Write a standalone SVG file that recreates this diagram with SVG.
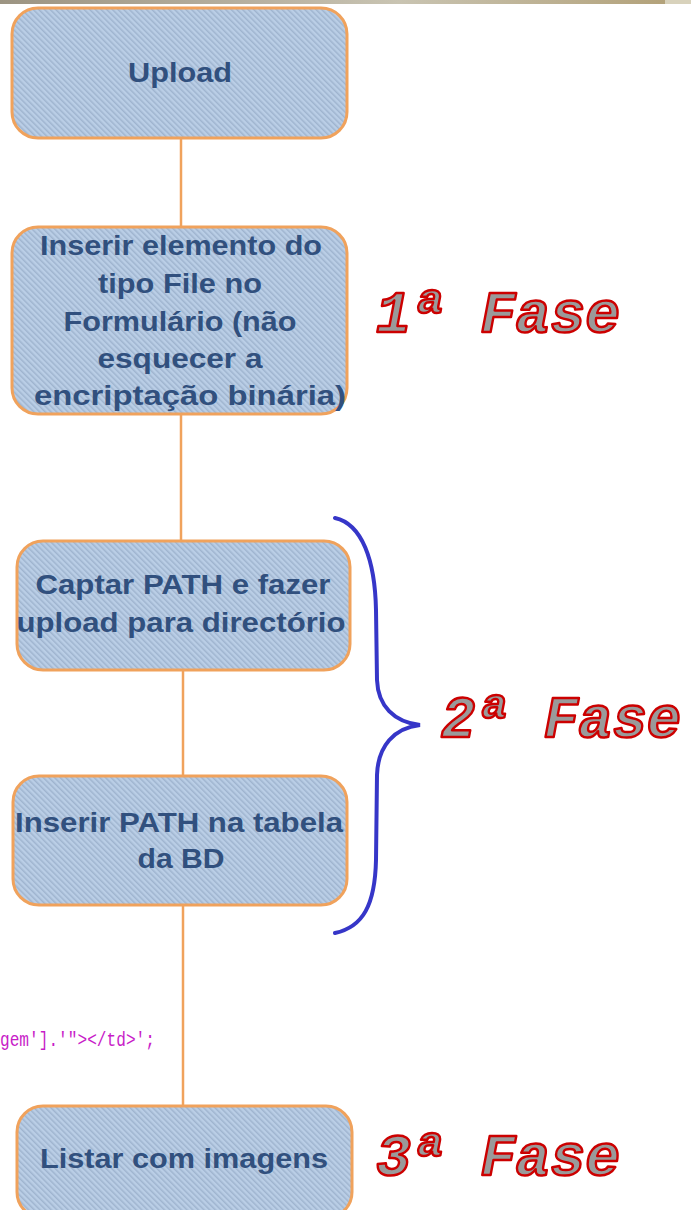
<svg xmlns="http://www.w3.org/2000/svg" width="691" height="1210" viewBox="0 0 691 1210">
<defs>
<pattern id="hatch" width="4" height="4" patternUnits="userSpaceOnUse" patternTransform="rotate(-45)">
<rect width="4" height="4" fill="#bacee6"/>
<rect width="1.5" height="4" fill="#9fb4cf"/>
</pattern>
<linearGradient id="topg" x1="0" y1="0" x2="1" y2="0">
<stop offset="0" stop-color="#9c9482"/>
<stop offset="0.4" stop-color="#b8b2a2"/>
<stop offset="0.6" stop-color="#c9c4b2"/>
<stop offset="1" stop-color="#b3a27a"/>
</linearGradient>
<style>
.box{fill:url(#hatch);stroke:#f0a25c;stroke-width:3}
.lbl{font-family:"Liberation Sans",Arial,sans-serif;font-weight:bold;font-size:27.5px;fill:#31507e;text-anchor:middle}
.fase{font-family:"Liberation Mono","Courier New",monospace;font-weight:bold;font-style:italic;font-size:60px;fill:#9a9a9a;stroke:#cc0000;stroke-width:2.5;stroke-linejoin:round}
.con{stroke:#f0a25c;stroke-width:2.5;fill:none}
.brace{stroke:#3636c8;stroke-width:4;fill:none;stroke-linecap:round}
.code{font-family:"Liberation Mono","Courier New",monospace;font-size:21px;fill:#c81cc8}
</style>
</defs>
<rect width="691" height="1210" fill="#ffffff"/>
<rect x="0" y="0" width="665" height="4" fill="url(#topg)"/>
<rect x="665" y="0" width="26" height="4" fill="#d8d2bc"/>

<g id="connectors">
<line class="con" x1="181" y1="138" x2="181" y2="227"/>
<line class="con" x1="181" y1="414" x2="181" y2="541"/>
<line class="con" x1="183" y1="670" x2="183" y2="776"/>
<line class="con" x1="183" y1="905" x2="183" y2="1106"/>
</g>

<g id="node-upload">
<rect class="box" x="12" y="8" width="335" height="130" rx="26"/>
<text class="lbl" x="180" y="82" textLength="104" lengthAdjust="spacingAndGlyphs">Upload</text>
</g>

<g id="node-inserir-file">
<rect class="box" x="12" y="227" width="335" height="187" rx="26"/>
<text class="lbl" x="181" y="255" textLength="282" lengthAdjust="spacingAndGlyphs">Inserir elemento do</text>
<text class="lbl" x="180" y="293" textLength="164" lengthAdjust="spacingAndGlyphs">tipo File no</text>
<text class="lbl" x="180" y="331" textLength="233" lengthAdjust="spacingAndGlyphs">Formulário (não</text>
<text class="lbl" x="180" y="368" textLength="165" lengthAdjust="spacingAndGlyphs">esquecer a</text>
<text class="lbl" x="190" y="405" textLength="312" lengthAdjust="spacingAndGlyphs">encriptação binária)</text>
</g>

<g id="node-captar">
<rect class="box" x="17" y="541" width="333" height="129" rx="26"/>
<text class="lbl" x="183" y="594" textLength="295" lengthAdjust="spacingAndGlyphs">Captar PATH e fazer</text>
<text class="lbl" x="181" y="632" textLength="329" lengthAdjust="spacingAndGlyphs">upload para directório</text>
</g>

<g id="node-inserir-path">
<rect class="box" x="13" y="776" width="334" height="129" rx="26"/>
<text class="lbl" x="179" y="832" textLength="328" lengthAdjust="spacingAndGlyphs">Inserir PATH na tabela</text>
<text class="lbl" x="181" y="868" textLength="87" lengthAdjust="spacingAndGlyphs">da BD</text>
</g>

<g id="node-listar">
<rect class="box" x="17" y="1106" width="335" height="112" rx="26"/>
<text class="lbl" x="184" y="1168" textLength="288" lengthAdjust="spacingAndGlyphs">Listar com imagens</text>
</g>

<g id="brace">
<path class="brace" d="M335,518 C362,524 375,560 376,610 L377,680 C378,706 394,722 420,725 C394,728 378,746 377,775 L376,860 C375,905 363,927 335,933"/>
</g>

<g id="labels">
<text class="fase" x="376" y="332" textLength="244" lengthAdjust="spacingAndGlyphs">1ª Fase</text>
<text class="fase" x="441" y="737" textLength="240" lengthAdjust="spacingAndGlyphs">2ª Fase</text>
<text class="fase" x="376" y="1175" textLength="244" lengthAdjust="spacingAndGlyphs">3ª Fase</text>
<text class="code" x="0" y="1046" textLength="155" lengthAdjust="spacingAndGlyphs">gem'].'"&gt;&lt;/td&gt;';</text>
</g>
</svg>
